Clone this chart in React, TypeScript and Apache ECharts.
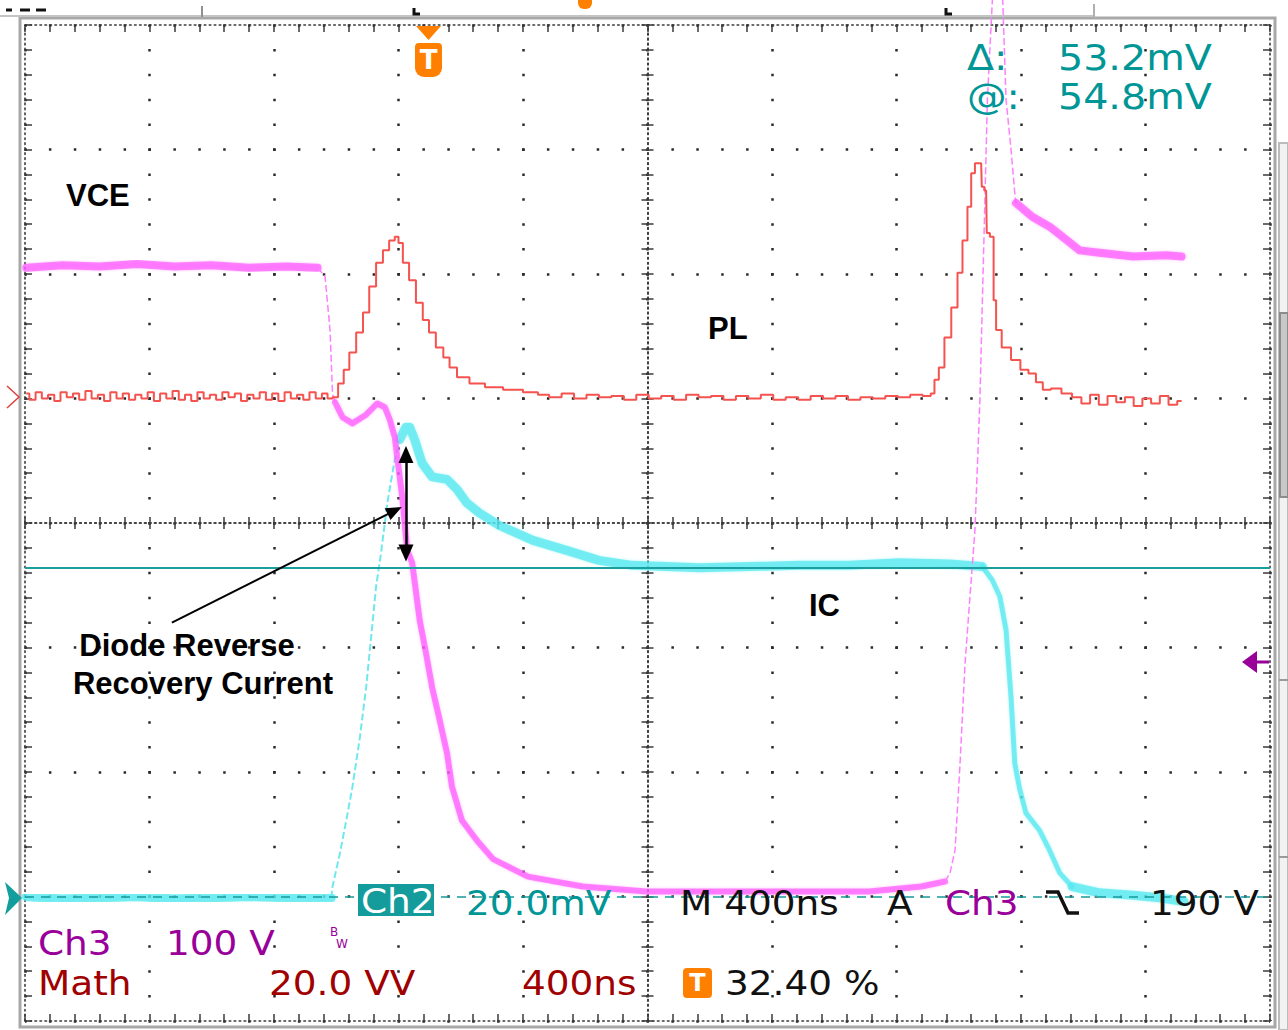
import React, { useEffect, useRef } from "react";
import * as echarts from "echarts";

// Graticule: 10 x 8 divisions, x and y in divisions from the screen centre
// VCE (Ch3, magenta)
const vceTopX = [-4.99, -4.7, -4.4, -4.1, -3.8, -3.5, -3.2, -2.9, -2.65];
const vceTopY = [2.05, 2.07, 2.06, 2.08, 2.06, 2.07, 2.05, 2.06, 2.05];
const vceDropX = [-2.65, -2.59, -2.55, -2.53, -2.51];
const vceDropY = [2.05, 1.98, 1.55, 1.04, 0.97];
const vceMidX = [-2.51, -2.45, -2.37, -2.26, -2.17, -2.11, -2.07, -2.03, -1.97, -1.93, -1.89, -1.83, -1.78, -1.73, -1.67, -1.61, -1.57, -1.49, -1.37, -1.24, -0.96, -0.52, -0.01, 0.63, 1.2, 1.78, 2.2, 2.39];
const vceMidY = [0.97, 0.85, 0.8, 0.87, 0.96, 0.93, 0.83, 0.69, 0.21, -0.22, -0.32, -0.78, -1.04, -1.32, -1.58, -1.85, -2.12, -2.39, -2.55, -2.7, -2.84, -2.92, -2.96, -2.96, -2.96, -2.96, -2.92, -2.88];
const vceSpikeX = [2.39, 2.43, 2.47, 2.51, 2.55, 2.59, 2.63, 2.67, 2.71, 2.73, 2.77, 2.81, 2.85, 2.88, 2.92, 2.95, 2.96];
const vceSpikeY = [-2.88, -2.81, -2.63, -1.94, -1.14, -0.59, -0.06, 0.99, 2.59, 3.4, 4.2, 4.55, 4.3, 3.4, 3.0, 2.65, 2.57];
const vceTailX = [2.96, 3.09, 3.23, 3.37, 3.47, 3.63, 3.9, 4.17, 4.29];
const vceTailY = [2.57, 2.46, 2.38, 2.27, 2.19, 2.17, 2.14, 2.15, 2.14];

// Math (PL, red)
const redBaseX = [-4.99, -4.94, -4.89, -4.84, -4.79, -4.74, -4.69, -4.64, -4.59, -4.54, -4.49, -4.44, -4.39, -4.34, -4.29, -4.24, -4.19, -4.14, -4.09, -4.04, -3.99, -3.94, -3.89, -3.84, -3.79, -3.74, -3.69, -3.64, -3.59, -3.54, -3.49, -3.44, -3.39, -3.34, -3.29, -3.24, -3.19, -3.14, -3.09, -3.04, -2.99, -2.94, -2.89, -2.84, -2.79, -2.74, -2.69, -2.64, -2.59, -2.55];
const redBaseY = [1.04, 0.99, 1.05, 1.0, 1.03, 0.98, 1.05, 1.01, 1.04, 0.99, 1.06, 1.0, 1.03, 0.98, 1.05, 1.0, 1.04, 0.99, 1.03, 1.0, 1.05, 0.98, 1.04, 1.0, 1.06, 0.99, 1.03, 0.98, 1.05, 1.0, 1.03, 0.99, 1.05, 1.01, 1.04, 0.98, 1.03, 1.0, 1.05, 0.99, 1.04, 0.98, 1.05, 1.0, 1.03, 0.99, 1.05, 1.0, 1.04, 1.0];
const redPulseX = [-2.51, -2.46, -2.42, -2.37, -2.31, -2.26, -2.21, -2.15, -2.1, -2.05, -2.01, -1.99, -1.94, -1.89, -1.83, -1.78, -1.73, -1.67, -1.61, -1.57, -1.49, -1.37, -1.24, -1.08, -0.92];
const redPulseY = [1.01, 1.12, 1.23, 1.37, 1.53, 1.69, 1.9, 2.09, 2.19, 2.27, 2.3, 2.25, 2.09, 1.95, 1.77, 1.63, 1.53, 1.41, 1.33, 1.25, 1.17, 1.12, 1.09, 1.07, 1.05];
const redFlatX = [-0.84, -0.74, -0.64, -0.54, -0.44, -0.34, -0.24, -0.14, -0.04, 0.06, 0.16, 0.26, 0.36, 0.46, 0.56, 0.66, 0.76, 0.86, 0.96, 1.06, 1.16, 1.26, 1.36, 1.46, 1.56, 1.66, 1.76, 1.86, 1.96, 2.06, 2.16, 2.26];
const redFlatY = [1.03, 1.01, 1.04, 1.0, 1.03, 1.01, 1.02, 0.99, 1.03, 1.0, 1.02, 0.99, 1.03, 1.01, 1.02, 0.99, 1.02, 1.0, 1.03, 0.99, 1.01, 0.99, 1.02, 1.0, 1.02, 0.99, 1.01, 1.0, 1.02, 1.01, 1.03, 1.02];
const redPeakX = [2.29, 2.32, 2.36, 2.41, 2.47, 2.51, 2.55, 2.59, 2.61, 2.65, 2.68, 2.69, 2.72, 2.73, 2.77, 2.79, 2.81, 2.88, 2.96, 3.03, 3.09, 3.15, 3.2, 3.28, 3.37];
const redPeakY = [1.04, 1.15, 1.25, 1.49, 1.73, 2.01, 2.27, 2.54, 2.81, 2.89, 2.89, 2.7, 2.67, 2.33, 2.3, 1.79, 1.55, 1.41, 1.31, 1.23, 1.2, 1.13, 1.07, 1.08, 1.04];
const redTailX = [3.45, 3.52, 3.59, 3.66, 3.73, 3.8, 3.87, 3.94, 4.01, 4.08, 4.15, 4.22, 4.29];
const redTailY = [1.01, 0.96, 1.03, 0.95, 1.02, 0.97, 1.01, 0.94, 1.0, 0.96, 1.02, 0.95, 0.98];

// IC (Ch2, cyan)
const icBaseX = [-4.99, -4.7, -4.4, -4.1, -3.8, -3.5, -3.2, -2.9, -2.54];
const icBaseY = [-3.0, -3.02, -3.01, -3.0, -3.02, -3.01, -3.0, -3.01, -3.01];
const icRiseX = [-2.54, -2.53, -2.47, -2.42, -2.37, -2.31, -2.26, -2.22, -2.18, -2.14, -2.09, -2.03, -1.99];
const icRiseY = [-3.01, -2.92, -2.65, -2.39, -2.12, -1.72, -1.32, -0.92, -0.51, -0.24, 0.16, 0.51, 0.67];
const icDecayX = [-1.99, -1.94, -1.91, -1.87, -1.81, -1.73, -1.61, -1.53, -1.45, -1.35, -1.19, -0.92, -0.65, -0.39, -0.12, 0.15, 0.42, 0.82, 1.22, 1.62, 2.02, 2.43, 2.69];
const icDecayY = [0.67, 0.77, 0.77, 0.67, 0.48, 0.37, 0.35, 0.27, 0.16, 0.08, -0.02, -0.14, -0.22, -0.3, -0.34, -0.35, -0.36, -0.35, -0.34, -0.34, -0.32, -0.33, -0.35];
const icFallX = [2.69, 2.77, 2.83, 2.88, 2.92, 2.95, 2.99, 3.04, 3.15, 3.23, 3.31, 3.41];
const icFallY = [-0.35, -0.46, -0.59, -0.86, -1.4, -1.93, -2.14, -2.33, -2.47, -2.63, -2.81, -2.92];
const icTailX = [3.41, 3.63, 3.9, 4.11, 4.31];
const icTailY = [-2.92, -2.97, -2.99, -3.01, -3.04];

// Reference levels and annotation anchors (divisions)
const cursorLevel = -0.36;
const ch2Ground = -3.0;
const recoveryTop = [-1.94, 0.55];
const recoveryBottom = [-1.94, -0.24];
const pointerFrom = [-3.82, -0.8];
const pointerTo = [-2.03, 0.1];

const zip = (xs: number[], ys: number[]) => xs.map((x, i) => [x, ys[i]]);

const DOT = "#2a2a2a";
const TEAL = "#009696";
const PURPLE = "#990099";
const DRED = "#a00000";
const ORANGE = "#ff8000";
const SCOPE_FONT = "DejaVu Sans";
const ANNOT_FONT = "Liberation Sans, Arial, sans-serif";

const tickStyle = { color: "#3a3a3a", width: 1.5 };
const denseDots = { color: "#3a3a3a", width: 1.6, type: [1.6, 3.38] };

function axis(dim: "x" | "y", position: string, onZero: boolean, inside: boolean, split: boolean, len: number) {
  const span = dim === "x" ? { min: -5, max: 5 } : { min: -4, max: 4 };
  return {
    type: "value",
    ...span,
    interval: 1,
    position,
    axisLine: {
      show: true,
      onZero,
      ...(onZero ? { onZeroAxisIndex: 0 } : {}),
      lineStyle: denseDots,
    },
    axisTick: { show: true, inside, length: len, lineStyle: tickStyle },
    minorTick: { show: true, splitNumber: 5, length: len, lineStyle: tickStyle },
    axisLabel: { show: false },
    splitLine: {
      show: split,
      lineStyle: { color: DOT, width: 2.5, type: [2.5, 22.4], dashOffset: 1.25 },
    },
    minorSplitLine: { show: false },
  };
}

function stext(text: string, x: number, y: number, fill: string, size = 34, extra: any = {}) {
  return {
    type: "text",
    x,
    y,
    scaleX: 1.1,
    z: 100,
    style: {
      text,
      fill,
      fontFamily: SCOPE_FONT,
      fontSize: size,
      textAlign: "left",
      align: "left",
      textVerticalAlign: "middle",
      verticalAlign: "middle",
      ...extra,
    },
  };
}

function atext(text: string, x: number, y: number, align = "left") {
  return {
    type: "text",
    x,
    y,
    z: 100,
    style: {
      text,
      fill: "#000",
      fontFamily: ANNOT_FONT,
      fontWeight: "bold",
      fontSize: 31,
      textAlign: align,
      align,
      textVerticalAlign: "middle",
      verticalAlign: "middle",
    },
  };
}

function lineSeries(name: string, xs: number[], ys: number[], style: any, extra: any = {}) {
  return {
    type: "line",
    name,
    data: zip(xs, ys),
    symbol: "none",
    silent: true,
    lineStyle: style,
    ...extra,
  };
}

const magentaBand = { color: "rgba(255,85,255,0.7)", width: 8, cap: "round", join: "round", shadowColor: "rgba(255,120,255,0.6)", shadowBlur: 3 };
const magentaThin = { color: "#ff80ff", width: 1.5, type: [7, 3] };
const cyanBand = { color: "rgba(80,232,238,0.72)", width: 9, cap: "round", join: "round", shadowColor: "rgba(110,240,245,0.6)", shadowBlur: 3 };
const cyanThin = { color: "#70e8ee", width: 2, type: [7, 3] };

export default function App() {
  const ref = useRef<HTMLDivElement>(null);
  useEffect(() => {
    const chart = echarts.init(ref.current!, null, { renderer: "svg" });
    const option: any = {
      animation: false,
      backgroundColor: "#ffffff",
      grid: { left: 25, top: 25, width: 1245, height: 996, outerBoundsMode: "none", containLabel: false },
      xAxis: [
        axis("x", "bottom", false, true, true, 7),
        axis("x", "top", false, true, false, 7),
        axis("x", "bottom", true, false, false, 6),
        axis("x", "top", true, false, false, 6),
      ],
      yAxis: [
        axis("y", "left", false, true, true, 7),
        axis("y", "right", false, true, false, 7),
        axis("y", "left", true, false, false, 6),
        axis("y", "right", true, false, false, 6),
      ],
      series: [
        lineSeries("IC base", icBaseX, icBaseY, cyanBand),
        lineSeries("IC rise", icRiseX, icRiseY, cyanThin),
        lineSeries("IC decay", icDecayX, icDecayY, cyanBand),
        lineSeries("IC fall", icFallX, icFallY, { ...cyanBand, width: 5 }),
        lineSeries("IC tail", icTailX, icTailY, cyanBand),
        lineSeries("VCE top", vceTopX, vceTopY, magentaBand),
        lineSeries("VCE drop", vceDropX, vceDropY, magentaThin),
        lineSeries("VCE mid", vceMidX, vceMidY, { ...magentaBand, width: 6 }),
        lineSeries("VCE spike", vceSpikeX, vceSpikeY, magentaThin, { clip: false }),
        lineSeries("VCE tail", vceTailX, vceTailY, magentaBand),
        {
          type: "line",
          name: "PL (Math)",
          data: [
            ...zip(redBaseX, redBaseY),
            ...zip(redPulseX, redPulseY),
            ...zip(redFlatX, redFlatY),
            ...zip(redPeakX, redPeakY),
            ...zip(redTailX, redTailY),
          ],
          step: "middle",
          symbol: "none",
          silent: true,
          lineStyle: { color: "#f4534f", width: 2 },
          markLine: {
            silent: true,
            symbol: "none",
            label: { show: false },
            emphasis: { disabled: true },
            data: [
              { yAxis: cursorLevel, lineStyle: { color: "#1a9e9e", width: 2, type: "solid" } },
              { yAxis: ch2Ground, lineStyle: { color: "#169a9a", width: 1.6, type: [9, 7] } },
              [
                { coord: pointerFrom, symbol: "none", lineStyle: { color: "#000", width: 2, type: "solid" } },
                { coord: pointerTo, symbol: "triangle", symbolSize: [13, 16] },
              ],
              [
                { coord: recoveryTop, symbol: "triangle", symbolSize: [15, 17], lineStyle: { color: "#000", width: 2.5, type: "solid" } },
                { coord: recoveryBottom, symbol: "triangle", symbolSize: [15, 17] },
              ],
            ],
          },
        },
      ],
      graphic: [
        // instrument frame and side bars
        { type: "rect", z: -1, shape: { x: 20, y: 18, width: 1255, height: 1009 }, style: { fill: "none", stroke: "#a8a8a8", lineWidth: 3 } },
        { type: "line", shape: { x1: 0, y1: 16, x2: 1094, y2: 16 }, style: { stroke: "#c4c4c4", lineWidth: 2 } },
        { type: "line", shape: { x1: 202, y1: 6, x2: 202, y2: 17 }, style: { stroke: "#909090", lineWidth: 2 } },
        { type: "line", shape: { x1: 1094, y1: 4, x2: 1094, y2: 18 }, style: { stroke: "#b0b0b0", lineWidth: 2 } },
        { type: "polyline", shape: { points: [[414, 8], [414, 14], [420, 14]] }, style: { stroke: "#111", lineWidth: 3, fill: "none" } },
        { type: "polyline", shape: { points: [[946, 8], [946, 14], [952, 14]] }, style: { stroke: "#111", lineWidth: 3, fill: "none" } },
        { type: "line", shape: { x1: 6, y1: 10, x2: 12, y2: 10 }, style: { stroke: "#111", lineWidth: 3 } },
        { type: "line", shape: { x1: 20, y1: 10, x2: 30, y2: 10 }, style: { stroke: "#111", lineWidth: 3 } },
        { type: "line", shape: { x1: 36, y1: 10, x2: 46, y2: 10 }, style: { stroke: "#111", lineWidth: 3 } },
        { type: "rect", shape: { x: 578, y: 0, width: 14, height: 9, r: [0, 0, 6, 6] }, style: { fill: ORANGE } },
        { type: "rect", shape: { x: 1279, y: 143, width: 9, height: 887 }, style: { fill: "#f2f2f2", stroke: "#bcbcbc", lineWidth: 2 } },
        { type: "rect", shape: { x: 1280, y: 313, width: 8, height: 184 }, style: { fill: "#c8c8c8", stroke: "#8c8c8c", lineWidth: 2 } },
        { type: "line", shape: { x1: 1279, y1: 680, x2: 1288, y2: 680 }, style: { stroke: "#9a9a9a", lineWidth: 2 } },
        { type: "line", shape: { x1: 1279, y1: 857, x2: 1288, y2: 857 }, style: { stroke: "#9a9a9a", lineWidth: 2 } },

        // channel markers
        { type: "polyline", shape: { points: [[7, 386], [19, 397], [7, 408]] }, style: { stroke: "#e04040", lineWidth: 1.5, fill: "none" } },
        { type: "polygon", shape: { points: [[5, 882], [22, 898], [5, 915], [9, 898]] }, style: { fill: "#139e9e" } },
        { type: "polygon", shape: { points: [[1242, 662], [1257, 651], [1257, 673]] }, style: { fill: PURPLE } },
        { type: "line", shape: { x1: 1255, y1: 662, x2: 1269, y2: 662 }, style: { stroke: PURPLE, lineWidth: 3 } },

        // trigger marker at top
        { type: "polygon", z: 90, shape: { points: [[416, 26], [441, 26], [428.5, 40]] }, style: { fill: ORANGE } },
        { type: "rect", z: 90, shape: { x: 415, y: 43, width: 27, height: 34, r: [4, 4, 9, 9] }, style: { fill: ORANGE } },
        { type: "text", z: 100, x: 428.5, y: 60, style: { text: "T", fill: "#fff", fontFamily: SCOPE_FONT, fontWeight: "bold", fontSize: 26, textAlign: "center", align: "center", textVerticalAlign: "middle", verticalAlign: "middle" } },

        // cursor readout
        stext("Δ:", 967, 58, TEAL, 36),
        stext("53.2mV", 1058, 58, TEAL, 36),
        stext("@:", 967, 97, TEAL, 36),
        stext("54.8mV", 1058, 97, TEAL, 36),

        // bottom readouts
        { type: "rect", z: 95, shape: { x: 358, y: 884, width: 76, height: 32 }, style: { fill: "#149c9c" } },
        stext("Ch2", 361, 901, "#ffffff"),
        stext("20.0mV", 466, 903, TEAL),
        stext("M 400ns", 680, 903, "#111"),
        stext("A", 887, 903, "#111"),
        stext("Ch3", 945, 903, PURPLE),
        { type: "polyline", z: 100, shape: { points: [[1046, 892], [1058, 892], [1068, 913], [1079, 913]] }, style: { stroke: "#111", lineWidth: 3.5, fill: "none" } },
        stext("190 V", 1150, 903, "#111"),
        stext("Ch3", 38, 943, PURPLE),
        stext("100 V", 166, 943, PURPLE),
        { type: "text", z: 100, x: 330, y: 932, style: { text: "B", fill: PURPLE, fontFamily: SCOPE_FONT, fontSize: 12, textVerticalAlign: "middle", verticalAlign: "middle" } },
        { type: "text", z: 100, x: 336, y: 944, style: { text: "W", fill: PURPLE, fontFamily: SCOPE_FONT, fontSize: 12, textVerticalAlign: "middle", verticalAlign: "middle" } },
        stext("Math", 38, 983, DRED),
        stext("20.0 VV", 269, 983, DRED),
        stext("400ns", 522, 983, DRED),
        { type: "rect", z: 95, shape: { x: 683, y: 968, width: 29, height: 30, r: 4 }, style: { fill: ORANGE } },
        { type: "text", z: 100, x: 697.5, y: 983, style: { text: "T", fill: "#fff", fontFamily: SCOPE_FONT, fontWeight: "bold", fontSize: 24, textAlign: "center", align: "center", textVerticalAlign: "middle", verticalAlign: "middle" } },
        stext("32.40 %", 725, 983, "#111"),

        // annotations
        atext("VCE", 66, 195),
        atext("PL", 708, 328),
        atext("IC", 809, 605),
        atext("Diode Reverse", 187, 645, "center"),
        atext("Recovery Current", 203, 683, "center"),
      ],
    };
    chart.setOption(option);
    return () => chart.dispose();
  }, []);
  return (
    <div
      ref={ref}
      style={{ position: "fixed", left: 0, top: 0, width: 1288, height: 1030, background: "#fff" }}
    />
  );
}
